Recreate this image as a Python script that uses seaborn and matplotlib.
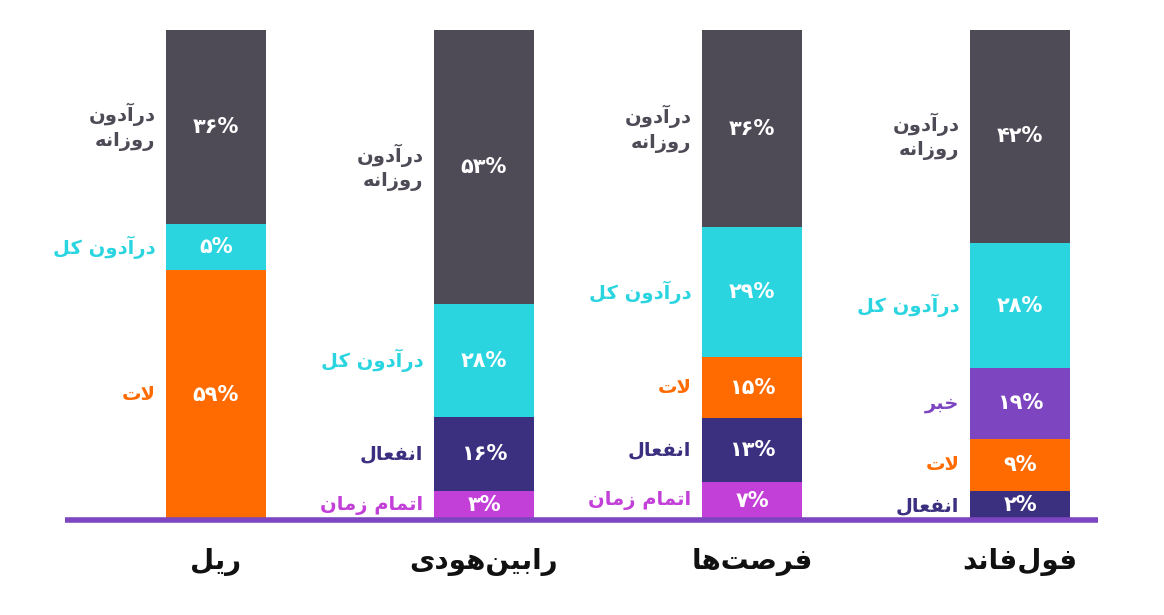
import matplotlib
matplotlib.use("Agg")
import matplotlib.pyplot as plt
import seaborn as sns
import numpy as np

# ---- minimal Arabic/Persian shaping (matplotlib has no shaping) ----
FORMS = {
    '\u0627': ('\uFE8D', '\uFE8E', None, None), '\u0622': ('\uFE81', '\uFE82', None, None),
    '\u062F': ('\uFEA9', '\uFEAA', None, None), '\u0631': ('\uFEAD', '\uFEAE', None, None),
    '\u0632': ('\uFEAF', '\uFEB0', None, None), '\u0648': ('\uFEED', '\uFEEE', None, None),
    '\u0628': ('\uFE8F', '\uFE90', '\uFE91', '\uFE92'), '\u062A': ('\uFE95', '\uFE96', '\uFE97', '\uFE98'),
    '\u062E': ('\uFEA5', '\uFEA6', '\uFEA7', '\uFEA8'), '\u0635': ('\uFEB9', '\uFEBA', '\uFEBB', '\uFEBC'),
    '\u0639': ('\uFEC9', '\uFECA', '\uFECB', '\uFECC'), '\u0641': ('\uFED1', '\uFED2', '\uFED3', '\uFED4'),
    '\u0644': ('\uFEDD', '\uFEDE', '\uFEDF', '\uFEE0'), '\u0645': ('\uFEE1', '\uFEE2', '\uFEE3', '\uFEE4'),
    '\u0646': ('\uFEE5', '\uFEE6', '\uFEE7', '\uFEE8'), '\u0647': ('\uFEE9', '\uFEEA', '\uFEEB', '\uFEEC'),
    '\u06A9': ('\uFB8E', '\uFB8F', '\uFB90', '\uFB91'), '\u06CC': ('\uFBFC', '\uFBFD', '\uFBFE', '\uFBFF'),
}

def shape(s):
    out_lines = []
    for line in s.split('\n'):
        chars = list(line)
        res = []
        i = 0
        while i < len(chars):
            c = chars[i]
            if c == '\u200C':
                i += 1
                continue
            prev = chars[i - 1] if i > 0 else None
            prev_joins = prev in FORMS and FORMS[prev][2] is not None
            # lam-alef
            if c == '\u0644' and i + 1 < len(chars) and chars[i + 1] == '\u0627':
                res.append('\uFEFC' if prev_joins else '\uFEFB')
                i += 2
                continue
            if c not in FORMS:
                res.append(c)
                i += 1
                continue
            nxt = chars[i + 1] if i + 1 < len(chars) else None
            f = FORMS[c]
            next_joins = f[2] is not None and nxt in FORMS
            if prev_joins and next_joins:
                res.append(f[3])
            elif prev_joins:
                res.append(f[1])
            elif next_joins:
                res.append(f[2])
            else:
                res.append(f[0])
            i += 1
        out_lines.append(''.join(reversed(res)))
    return '\n'.join(out_lines)

# ---- data ----
categories = ['ریل', 'رابین\u200cهودی', 'فرصت\u200cها', 'فول\u200cفاند']
DAILY = 'درآدون\nروزانه'
TOTAL = 'درآدون کل'
# segments bottom -> top (visual heights, share of bar)
bar_heights = [
    [51, 9.4, 39.6],
    [6, 15, 23, 56],
    [7.8, 13, 12.4, 26.5, 40.3],
    [6, 10.6, 14.4, 25.5, 43.5],
]
bar_labels = [
    ['۵۹%', '۵%', '۳۶%'],
    ['۳%', '۱۶%', '۲۸%', '۵۳%'],
    ['۷%', '۱۳%', '۱۵%', '۲۹%', '۳۶%'],
    ['۲%', '۹%', '۱۹%', '۲۸%', '۴۲%'],
]
bar_names = [
    ['لات', TOTAL, DAILY],
    ['اتمام زمان', 'انفعال', TOTAL, DAILY],
    ['اتمام زمان', 'انفعال', 'لات', TOTAL, DAILY],
    ['انفعال', 'لات', 'خبر', TOTAL, DAILY],
]
COL = {'لات': '#ff6b00', TOTAL: '#2bd5e0', DAILY: '#4e4a56', 'اتمام زمان': '#c23fd8',
       'انفعال': '#3b2f80', 'خبر': '#7d45c0'}

sns.set_theme(style='white')
plt.rcParams['font.family'] = ['DejaVu Sans']
fig = plt.figure(figsize=(11.64, 6.15), dpi=100)
ax = fig.add_axes([0, 0, 1, 1])

nmax = max(len(h) for h in bar_heights)
xlabels = [shape(c) for c in categories]
for j in range(nmax - 1, -1, -1):
    ys, cols = [], []
    for h, n in zip(bar_heights, bar_names):
        if j < len(h):
            ys.append(sum(h[:j + 1]))
            cols.append(COL[n[j]])
        else:
            ys.append(0)
            cols.append('#ffffff')
    sns.barplot(x=xlabels, y=ys, hue=xlabels, palette=cols, legend=False,
                width=0.373, ax=ax, saturation=1, linewidth=0)

for i, (h, labs, names) in enumerate(zip(bar_heights, bar_labels, bar_names)):
    base = 0
    for hh, lab, nm in zip(h, labs, names):
        yc = base + hh / 2
        ax.text(i, yc, lab, ha='center', va='center', color='white', fontsize=15, fontweight='bold')
        ax.text(i - 0.373 / 2 - 0.04, yc, shape(nm), ha='right', va='center', color=COL[nm],
                fontsize=14, fontweight='bold', linespacing=1.3)
        base += hh
    ax.text(i, -8.6, xlabels[i], ha='center', va='center', color='#111111', fontsize=20, fontweight='bold')

ax.plot([-0.565, 3.29], [0, 0], color='#7d45c0', lw=4, solid_capstyle='butt', zorder=5)
ax.set_xlim(-0.806, 3.537)
ax.set_ylim(-19.4, 106.1)
ax.axis('off')
fig.savefig('out.png', dpi=100, facecolor='white')
